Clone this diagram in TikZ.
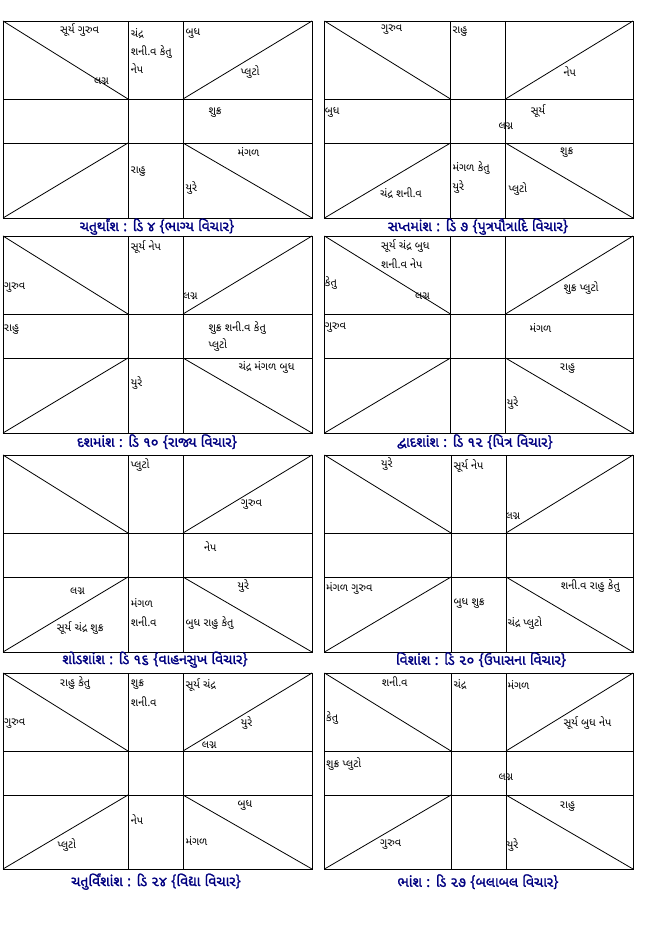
\documentclass[tikz,border=0pt]{standalone}
\usepackage{fontspec}
\newfontfamily\guj[Script=Gujarati]{Noto Sans Gujarati UI}
\newfontfamily\gujb[Script=Gujarati,FakeBold=1.6]{Noto Sans Gujarati UI}
\definecolor{titleblue}{HTML}{000080}
\newcommand\kundli[8]{%
  \draw[chartline] (#1,#2) rectangle (#3,#4);
  \draw[chartline] (#5,#2) -- (#5,#4) (#6,#2) -- (#6,#4) (#1,#7) -- (#3,#7) (#1,#8) -- (#3,#8);
  \draw[chartline] (#1,#2) -- (#5,#7) (#3,#2) -- (#6,#7) (#1,#4) -- (#5,#8) (#3,#4) -- (#6,#8);
}
\begin{document}
\begin{tikzpicture}[x=1pt,y=-1pt,
  chartline/.style={line width=0.8pt,black},
  lbl/.style={anchor=west,inner sep=0pt,font=\guj\fontsize{11}{12}\selectfont},
  ttl/.style={inner sep=0pt,text=titleblue,font=\gujb\fontsize{14}{15}\selectfont}]
\useasboundingbox (0,0) rectangle (656,949);
\fill[white] (0,0) rectangle (656,949);
% charts
\kundli{3}{21}{312}{218}{128}{183}{99}{143}
\kundli{324.5}{21}{633}{218}{450.5}{505.5}{99}{143}
\kundli{3}{236}{312}{433}{128}{183}{314}{358}
\kundli{324.5}{236}{633}{433}{450.5}{505.5}{314}{358}
\kundli{3}{455}{312}{652}{128}{183}{533}{577}
\kundli{324.5}{455}{633}{652}{451}{506}{533}{577}
\kundli{3}{673}{312}{869}{128}{183}{751}{795}
\kundli{324.5}{673}{633}{869}{451}{506}{751}{795}
% chart 1
\node[lbl] (a1) at (60,30) {સૂર્ય ગુરુવ};
\node[lbl] (a2) at (94,81.7) {લગ્ન};
\node[lbl] (a3) at (130.7,33.3) {ચંદ્ર};
\node[lbl] (a4) at (130.7,51.7) {શની.વ કેતુ};
\node[lbl] (a5) at (130.7,69) {નેપ};
\node[lbl] (a6) at (185.3,33.3) {બુધ};
\node[lbl] (a7) at (240.7,71.7) {પ્લુટો};
\node[lbl] (a8) at (208.3,112.7) {શુક્ર};
\node[lbl] (a9) at (237.3,151.7) {મંગળ};
\node[lbl] (a10) at (130.7,171.7) {રાહુ};
\node[lbl] (a11) at (185.3,188.3) {યુરે};
\node[ttl] (t1) at (157,226.7) {ચતુર્થાંશ : ડિ ૪ \{ભાગ્ય વિચાર\}};
% chart 2
\node[lbl] (b1) at (381,30) {ગુરુવ};
\node[lbl] (b2) at (452.3,31.7) {રાહુ};
\node[lbl] (b3) at (563.3,71.7) {નેપ};
\node[lbl] (b4) at (324.7,112.7) {બુધ};
\node[lbl] (b5) at (530.7,111) {સૂર્ય};
\node[lbl] (b6) at (498.3,126.7) {લગ્ન};
\node[lbl] (b7) at (560,152.7) {શુક્ર};
\node[lbl] (b8) at (452.3,168.3) {મંગળ કેતુ};
\node[lbl] (b9) at (452.3,186.7) {યુરે};
\node[lbl] (b10) at (380,192.7) {ચંદ્ર શની.વ};
\node[lbl] (b11) at (508.3,189) {પ્લુટો};
\node[ttl] (t2) at (478,226.7) {સપ્તમાંશ : ડિ ૭ \{પુત્રપૌત્રાદિ વિચાર\}};
% chart 3
\node[lbl] (c1) at (130.7,247.3) {સૂર્ય નેપ};
\node[lbl] (c2) at (4,287.7) {ગુરુવ};
\node[lbl] (c3) at (182.7,296.7) {લગ્ન};
\node[lbl] (c4) at (4,330) {રાહુ};
\node[lbl] (c5) at (208.3,327.7) {શુક્ર શની.વ કેતુ};
\node[lbl] (c6) at (208.3,345) {પ્લુટો};
\node[lbl] (c7) at (238.3,367.7) {ચંદ્ર મંગળ બુધ};
\node[lbl] (c8) at (130.7,383.3) {યુરે};
\node[ttl] (t3) at (157,441.7) {દશમાંશ : ડિ ૧૦ \{રાજ્ય વિચાર\}};
% chart 4
\node[lbl] (d1) at (381,246) {સૂર્ય ચંદ્ર બુધ};
\node[lbl] (d2) at (381,263.3) {શની.વ નેપ};
\node[lbl] (d3) at (324.7,283.3) {કેતુ};
\node[lbl] (d4) at (415,296.7) {લગ્ન};
\node[lbl] (d5) at (563.3,287.7) {શુક્ર પ્લુટો};
\node[lbl] (d6) at (324.7,327.7) {ગુરુવ};
\node[lbl] (d7) at (529.3,327.7) {મંગળ};
\node[lbl] (d8) at (560,368.3) {રાહુ};
\node[lbl] (d9) at (506.7,403.3) {યુરે};
\node[ttl] (t4) at (475,441.7) {દ્વાદશાંશ : ડિ ૧૨ \{પિત્ર વિચાર\}};
% chart 5
\node[lbl] (e1) at (130.7,464.7) {પ્લુટો};
\node[lbl] (e2) at (240.7,504.7) {ગુરુવ};
\node[lbl] (e3) at (204,546.3) {નેપ};
\node[lbl] (e4) at (70,591.3) {લગ્ન};
\node[lbl] (e5) at (237.3,586.3) {યુરે};
\node[lbl] (e6) at (130.7,603) {મંગળ};
\node[lbl] (e7) at (130.7,622) {શની.વ};
\node[lbl] (e8) at (56.7,628) {સૂર્ય ચંદ્ર શુક્ર};
\node[lbl] (e9) at (185.3,623) {બુધ રાહુ કેતુ};
\node[ttl] (t5) at (155,659.7) {શોડશાંશ : ડિ ૧૬ \{વાહનસુખ વિચાર\}};
% chart 6
\node[lbl] (f1) at (381,464) {યુરે};
\node[lbl] (f2) at (453.3,466.3) {સૂર્ય નેપ};
\node[lbl] (f3) at (505.3,516.3) {લગ્ન};
\node[lbl] (f4) at (326,588) {મંગળ ગુરુવ};
\node[lbl] (f5) at (560.7,586.3) {શની.વ રાહુ કેતુ};
\node[lbl] (f6) at (453.3,603) {બુધ શુક્ર};
\node[lbl] (f7) at (507.3,623) {ચંદ્ર પ્લુટો};
\node[ttl] (t6) at (481,659.7) {વિશાંશ : ડિ ૨૦ \{ઉપાસના વિચાર\}};
% chart 7
\node[lbl] (g1) at (60,683.3) {રાહુ કેતુ};
\node[lbl] (g2) at (130.7,685) {શુક્ર};
\node[lbl] (g3) at (130.7,701.7) {શની.વ};
\node[lbl] (g4) at (185.3,685) {સૂર્ય ચંદ્ર};
\node[lbl] (g5) at (4,723.3) {ગુરુવ};
\node[lbl] (g6) at (240.7,723.3) {યુરે};
\node[lbl] (g7) at (201.7,745) {લગ્ન};
\node[lbl] (g8) at (237.3,805) {બુધ};
\node[lbl] (g9) at (130.7,820) {નેપ};
\node[lbl] (g10) at (57.3,845) {પ્લુટો};
\node[lbl] (g11) at (185.3,841) {મંગળ};
\node[ttl] (t7) at (156,881.7) {ચતુર્વિંશાંશ : ડિ ૨૪ \{વિદ્યા વિચાર\}};
% chart 8
\node[lbl] (h1) at (381.7,681.7) {શની.વ};
\node[lbl] (h2) at (453.3,685) {ચંદ્ર};
\node[lbl] (h3) at (507.3,685) {મંગળ};
\node[lbl] (h4) at (326,718.3) {કેતુ};
\node[lbl] (h5) at (563.3,723.3) {સૂર્ય બુધ નેપ};
\node[lbl] (h6) at (326,764) {શુક્ર પ્લુટો};
\node[lbl] (h7) at (498.3,777.7) {લગ્ન};
\node[lbl] (h8) at (560,806.7) {રાહુ};
\node[lbl] (h9) at (380,845) {ગુરુવ};
\node[lbl] (h10) at (506.7,845) {યુરે};
\node[ttl] (t8) at (478,881.7) {ભાંશ : ડિ ૨૭ \{બલાબલ વિચાર\}};
\end{tikzpicture}
\end{document}
